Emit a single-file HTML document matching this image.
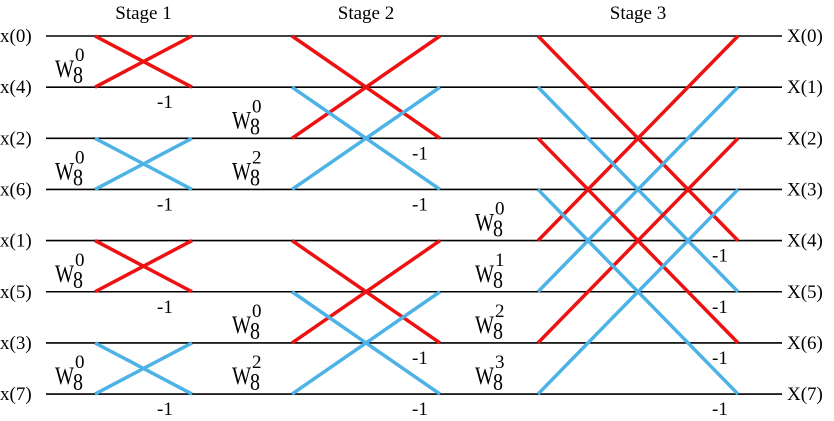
<!DOCTYPE html>
<html><head><meta charset="utf-8"><style>
body{margin:0;background:#fff}
svg{display:block;font-family:"Liberation Serif",serif;}
</style></head><body>
<svg id="c" width="834" height="421">
</svg>
<script>
const rowsIn=["x(0)","x(4)","x(2)","x(6)","x(1)","x(5)","x(3)","x(7)"];
const rowsOut=["X(0)","X(1)","X(2)","X(3)","X(4)","X(5)","X(6)","X(7)"];
const stageNames=["Stage 1","Stage 2","Stage 3"];
const stageSpan=[1,2,4];
const stageX=[[95,192],[292,440],[538,738]];
const twiddle=[[0,0,0,0],[0,2,0,2],[0,1,2,3]];
const twOffset=[40,60,63];
const minusOffset=[35,28,26];
const rowY=i=>36+i*51.15;
const NS="http://www.w3.org/2000/svg";
const svg=document.getElementById('c');
function mk(t,a,txt){const e=document.createElementNS(NS,t);for(const k in a)e.setAttribute(k,a[k]);if(txt!==undefined)e.textContent=txt;svg.appendChild(e);return e;}
rowsIn.forEach((r,i)=>{
  const l=mk('line',{x1:46,x2:782,y1:rowY(i),y2:rowY(i),stroke:'#000','stroke-width':1.6});
  
  
  const a=mk('text',{x:0,y:rowY(i)+6,'font-size':19},r);
  
  
  const b=mk('text',{x:787,y:rowY(i)+6,'font-size':19},rowsOut[i]);
  
  
});
stageNames.forEach((s,si)=>{
  const [x0,x1]=stageX[si];
  const t=mk('text',{x:(x0+x1)/2,y:19,'font-size':19,'text-anchor':'middle'},s);
  
  
  const span=stageSpan[si];
  let n=0;
  for(let g=0;g<8;g+=2*span){
    for(let k=0;k<span;k++){
      const top=g+k,bot=g+k+span;
      const col=(n%2===0)?'#ee1111':'#4db3e6';
      n++;
      const l1=mk('line',{x1:x0,y1:rowY(top),x2:x1,y2:rowY(bot),stroke:col,'stroke-width':3.5});
      
      
      const l2=mk('line',{x1:x0,y1:rowY(bot),x2:x1,y2:rowY(top),stroke:col,'stroke-width':3.5});
      
      
      const yb=rowY(bot);
      const wx=x0-twOffset[si];
      const tw=mk('text',{x:wx,y:yb-10,'font-size':25,textLength:19,lengthAdjust:'spacingAndGlyphs'},'W');
      
      
      const t8=mk('text',{x:wx+18,y:yb-4,'font-size':24,textLength:10,lengthAdjust:'spacingAndGlyphs'},'8');
      
      
      const te=mk('text',{x:wx+20,y:yb-26,'font-size':19},String(twiddle[si][k]));
      
      
      const m=mk('text',{x:x1-minusOffset[si],y:yb+21,'font-size':19},'-1');
      
      
    }
  }
});
</script>
</body></html>
